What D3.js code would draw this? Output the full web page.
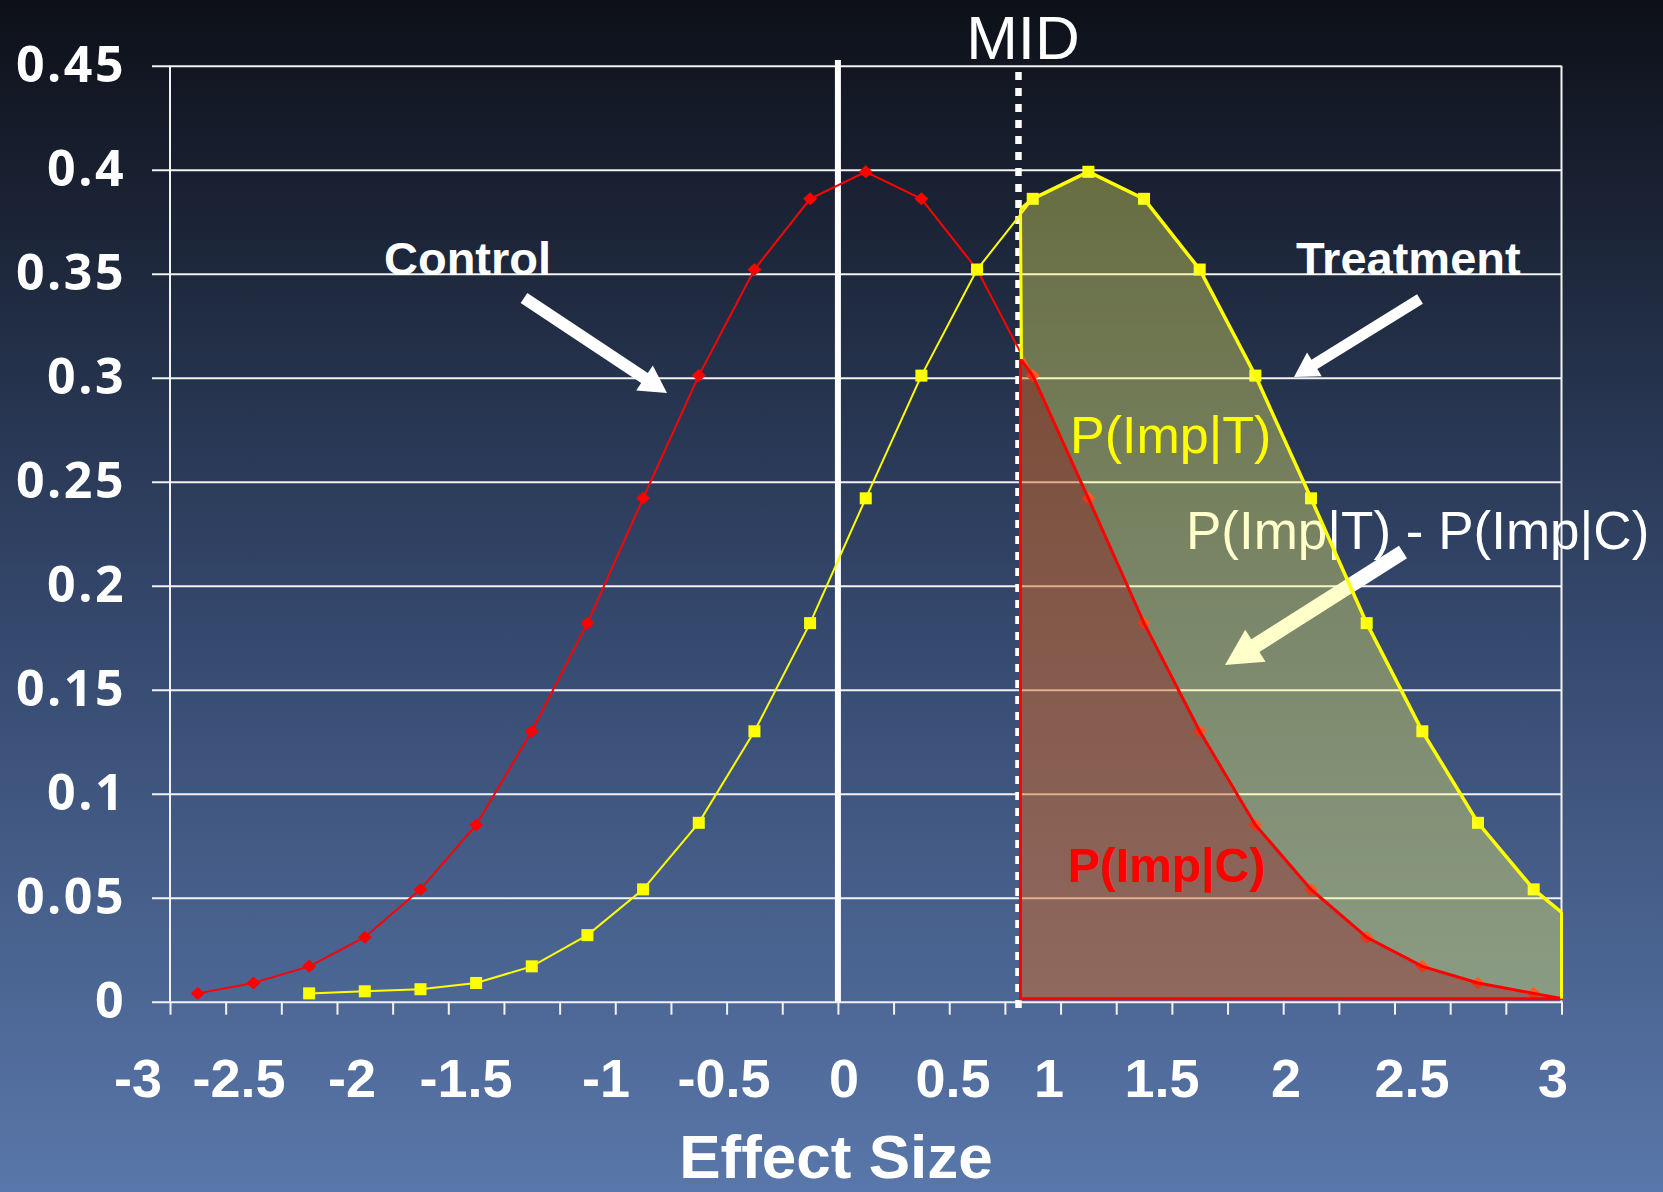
<!DOCTYPE html>
<html>
<head>
<meta charset="utf-8">
<script src="https://cdn.jsdelivr.net/npm/d3@7"></script>
<style>
  html, body { margin: 0; padding: 0; background: #0e1119; }
  svg { display: block; }
</style>
</head>
<body>
<script>
// ---- data ----
// effect sizes of the 25 categories
const effect = [-3, -2.75, -2.5, -2.25, -2, -1.75, -1.5, -1.25, -1, -0.75, -0.5, -0.25, 0,
                0.25, 0.5, 0.75, 1, 1.25, 1.5, 1.75, 2, 2.25, 2.5, 2.75, 3];
// control group density
const control = [0.004, 0.009, 0.017, 0.031, 0.054, 0.085, 0.130, 0.182, 0.242, 0.301, 0.352, 0.386, 0.399,
                 0.386, 0.352, 0.301, 0.242, 0.182, 0.130, 0.085, 0.054, 0.031, 0.017, 0.009, 0.004];
// treatment group density (no values for the first two categories)
const treatment = [null, null, 0.004, 0.005, 0.006, 0.009, 0.017, 0.032, 0.054, 0.086, 0.130, 0.182, 0.242,
                   0.301, 0.352, 0.386, 0.399, 0.386, 0.352, 0.301, 0.242, 0.182, 0.130, 0.086, 0.054];
// minimal important difference on the effect-size axis
const mid = 0.695;
// shaded regions: curve heights where they meet the MID line and the right border
const shadeStartT = 0.381, shadeStartC = 0.309;
const shadeEndT = 0.043, shadeEndC = 0.0015;
// axis labels
const yTicks = [0, 0.05, 0.1, 0.15, 0.2, 0.25, 0.3, 0.35, 0.4, 0.45];
const yTickLabels = ["0", "0.05", "0.1", "0.15", "0.2", "0.25", "0.3", "0.35", "0.4", "0.45"];
const xTickLabels = ["-3", "-2.5", "-2", "-1.5", "-1", "-0.5", "0", "0.5", "1", "1.5", "2", "2.5", "3"];

// ---- layout ----
const W = 1663, H = 1192;
const plot = { left: 170, right: 1561.5, top: 65.7, bottom: 1001.7 };
const xLabelCenters = [138, 239, 352, 466, 606, 724, 844, 953, 1049, 1162, 1286, 1412, 1553];
const FONT = "'Liberation Sans', Arial, Helvetica, sans-serif";

const x = d3.scaleLinear().domain([-3.125, 3.125]).range([plot.left, plot.right]);
const y = d3.scaleLinear().domain([0, 0.45]).range([plot.bottom, plot.top]);

const svg = d3.select("body").append("svg")
  .attr("width", W).attr("height", H)
  .attr("viewBox", `0 0 ${W} ${H}`);

const defs = svg.append("defs");
const grad = defs.append("linearGradient")
  .attr("id", "bg").attr("x1", 0).attr("y1", 0).attr("x2", 0).attr("y2", 1);
grad.append("stop").attr("offset", "0%").attr("stop-color", "#0d1018");
grad.append("stop").attr("offset", "50%").attr("stop-color", "#33466a");
grad.append("stop").attr("offset", "100%").attr("stop-color", "#5977aa");

svg.append("rect").attr("width", W).attr("height", H).attr("fill", "url(#bg)");

// ---- gridlines and y labels ----
const yAxis = d3.axisLeft(y)
  .tickValues(yTicks)
  .tickSize(plot.right - 152)
  .tickPadding(26)
  .tickFormat((d, i) => yTickLabels[i]);

const gy = svg.append("g")
  .attr("transform", `translate(${plot.right},0)`)
  .call(yAxis);
gy.select(".domain").remove();
gy.selectAll(".tick line").attr("stroke", "#f2f2f2").attr("stroke-width", 2);
gy.selectAll(".tick text")
  .attr("fill", "#ffffff")
  .attr("font-family", "'Open Sans', 'Liberation Sans', sans-serif")
  .attr("font-weight", 700)
  .attr("font-size", 50)
  .attr("letter-spacing", 2.5)
  .attr("dy", "0.36em")
  .attr("y", -2);

// y axis line and right border
svg.append("line")
  .attr("x1", plot.left).attr("x2", plot.left)
  .attr("y1", plot.top).attr("y2", plot.bottom)
  .attr("stroke", "#f2f2f2").attr("stroke-width", 2);
svg.append("line")
  .attr("x1", plot.right).attr("x2", plot.right)
  .attr("y1", plot.top).attr("y2", plot.bottom)
  .attr("stroke", "#f2f2f2").attr("stroke-width", 2);

// ---- x axis: tick marks at category boundaries ----
const boundaries = d3.range(effect.length + 1).map(i => -3.125 + i * 0.25);
const xAxis = d3.axisBottom(x)
  .tickValues(boundaries)
  .tickSize(13)
  .tickFormat("");
const gx = svg.append("g")
  .attr("transform", `translate(0,${plot.bottom})`)
  .call(xAxis);
gx.select(".domain").remove();
gx.selectAll(".tick line").attr("stroke", "#f2f2f2").attr("stroke-width", 2);

// x tick labels
svg.append("g").selectAll("text")
  .data(xTickLabels)
  .join("text")
  .attr("x", (d, i) => xLabelCenters[i])
  .attr("y", 1097)
  .attr("text-anchor", "middle")
  .attr("fill", "#ffffff")
  .attr("font-family", FONT)
  .attr("font-weight", 700)
  .attr("font-size", 54)
  .text(d => d);

svg.append("text")
  .attr("x", 836).attr("y", 1178)
  .attr("text-anchor", "middle")
  .attr("fill", "#ffffff")
  .attr("font-family", FONT)
  .attr("font-weight", 700)
  .attr("font-size", 62)
  .text("Effect Size");

// ---- reference lines ----
svg.append("line")
  .attr("x1", x(-0.125)).attr("x2", x(-0.125))
  .attr("y1", 60).attr("y2", plot.bottom)
  .attr("stroke", "#ffffff").attr("stroke-width", 6);

svg.append("line")
  .attr("x1", x(mid) - 2).attr("x2", x(mid) - 2)
  .attr("y1", 72).attr("y2", 1014)
  .attr("stroke", "#ffffff").attr("stroke-width", 6.5)
  .attr("stroke-dasharray", "8,8");

svg.append("text")
  .attr("x", 1023).attr("y", 59)
  .attr("text-anchor", "middle")
  .attr("fill", "#ffffff")
  .attr("font-family", FONT)
  .attr("font-size", 62)
  .text("MID");

// ---- series ----
const ctrlPts = effect.map((e, i) => ({ e, v: control[i] }));
const trtPts = effect.map((e, i) => ({ e, v: treatment[i] })).filter(d => d.v !== null);

const line = d3.line().x(d => x(d.e)).y(d => y(d.v));

svg.append("path").datum(ctrlPts)
  .attr("d", line).attr("fill", "none")
  .attr("stroke", "#ff0000").attr("stroke-width", 2);
svg.append("path").datum(trtPts)
  .attr("d", line).attr("fill", "none")
  .attr("stroke", "#ffff00").attr("stroke-width", 2);

svg.append("g").selectAll("path")
  .data(ctrlPts)
  .join("path")
  .attr("transform", d => `translate(${x(d.e)},${y(d.v)})`)
  .attr("d", "M0,-6.5L7,0L0,6.5L-7,0Z")
  .attr("fill", "#ff0000");

svg.append("g").selectAll("rect")
  .data(trtPts)
  .join("rect")
  .attr("x", d => x(d.e) - 6)
  .attr("y", d => y(d.v) - 6)
  .attr("width", 12).attr("height", 12)
  .attr("fill", "#ffff00");

// ---- annotations (white text and arrows, under the shading) ----
function arrowPath(x0, y0, x1, y1, shaft, headW, headL) {
  const dx = x1 - x0, dy = y1 - y0, len = Math.hypot(dx, dy);
  const ux = dx / len, uy = dy / len, px = -uy, py = ux;
  const bx = x1 - ux * headL, by = y1 - uy * headL;
  const p = [
    [x0 + px * shaft / 2, y0 + py * shaft / 2],
    [bx + px * shaft / 2, by + py * shaft / 2],
    [bx + px * headW / 2, by + py * headW / 2],
    [x1, y1],
    [bx - px * headW / 2, by - py * headW / 2],
    [bx - px * shaft / 2, by - py * shaft / 2],
    [x0 - px * shaft / 2, y0 - py * shaft / 2]
  ];
  return "M" + p.map(q => q.join(",")).join("L") + "Z";
}

const labelStyle = sel => sel
  .attr("fill", "#ffffff")
  .attr("font-family", FONT);

svg.append("text").call(labelStyle)
  .attr("x", 384).attr("y", 275)
  .attr("font-weight", 700).attr("font-size", 47)
  .text("Control");
svg.append("text").call(labelStyle)
  .attr("x", 1296).attr("y", 275)
  .attr("font-weight", 700).attr("font-size", 47)
  .text("Treatment");
svg.append("text").call(labelStyle)
  .attr("x", 1186).attr("y", 549)
  .attr("font-size", 53)
  .text("P(Imp|T) - P(Imp|C)");

svg.append("path").attr("d", arrowPath(524, 298, 667, 393, 12, 30, 27)).attr("fill", "#ffffff");
svg.append("path").attr("d", arrowPath(1420, 299, 1294, 377, 11, 28, 24)).attr("fill", "#ffffff");
svg.append("path").attr("d", arrowPath(1403, 552, 1225, 665, 15, 38, 36)).attr("fill", "#ffffff");

// ---- shaded regions right of the MID ----
const shade = [{ e: mid, t: shadeStartT, c: shadeStartC }]
  .concat(effect.map((e, i) => ({ e, t: treatment[i], c: control[i] })).filter(d => d.e > mid))
  .concat([{ e: 3.125, t: shadeEndT, c: shadeEndC }]);

const diffArea = d3.area()
  .x(d => x(d.e))
  .y0(d => y(d.c))
  .y1(d => y(d.t));
const ctrlArea = d3.area()
  .x(d => x(d.e))
  .y0(y(0) - 3)
  .y1(d => y(d.c));

svg.append("path").datum(shade)
  .attr("d", diffArea)
  .attr("fill", "rgba(255,255,100,0.35)")
  .attr("stroke", "rgba(255,255,190,0.8)")
  .attr("stroke-width", 1.5);
svg.append("path").datum(shade)
  .attr("d", ctrlArea)
  .attr("fill", "rgba(210,105,40,0.5)")
  .attr("stroke", "#ff0000")
  .attr("stroke-width", 3);
svg.append("path").datum(shade)
  .attr("d", d3.line().x(d => x(d.e)).y(d => y(d.t)))
  .attr("fill", "none")
  .attr("stroke", "#ffff00")
  .attr("stroke-width", 3.5);
// vertical edges of the treatment region
const last = shade[shade.length - 1];
svg.append("line")
  .attr("x1", x(mid)).attr("x2", x(mid) + 1)
  .attr("y1", y(shadeStartT)).attr("y2", y(shadeStartC))
  .attr("stroke", "#ffff00").attr("stroke-width", 3);
svg.append("line")
  .attr("x1", x(last.e)).attr("x2", x(last.e))
  .attr("y1", y(last.t)).attr("y2", y(0) - 3)
  .attr("stroke", "#ffff00").attr("stroke-width", 3);

// ---- region labels ----
svg.append("text")
  .attr("x", 1070).attr("y", 453)
  .attr("fill", "#ffff00")
  .attr("font-family", FONT)
  .attr("font-size", 52)
  .text("P(Imp|T)");
svg.append("text")
  .attr("x", 1068).attr("y", 882)
  .attr("fill", "#ff0000")
  .attr("font-family", FONT)
  .attr("font-weight", 700)
  .attr("font-size", 48)
  .text("P(Imp|C)");
</script>
</body>
</html>
